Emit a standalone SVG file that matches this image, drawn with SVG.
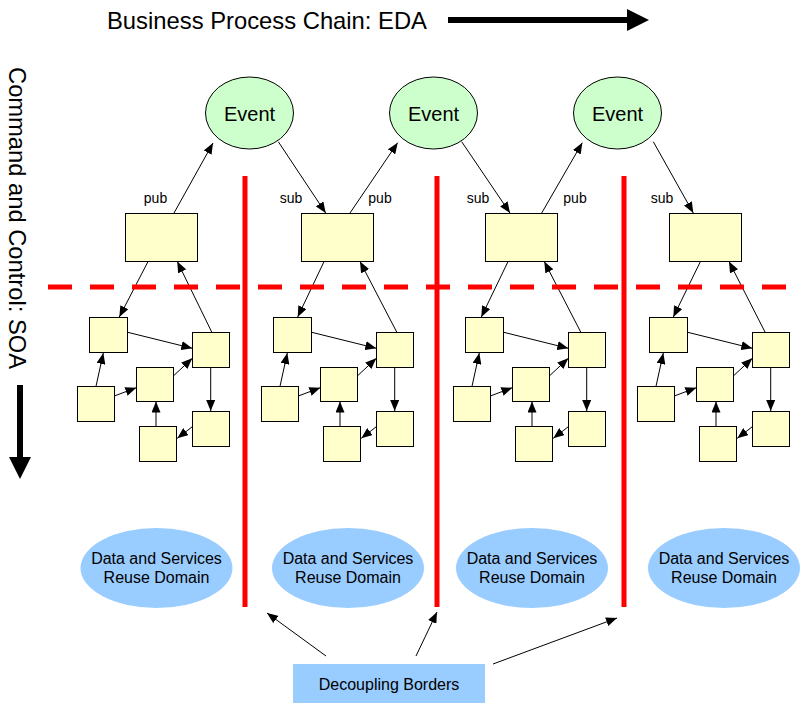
<svg xmlns="http://www.w3.org/2000/svg" width="806" height="707" viewBox="0 0 806 707">
<style>
text{font-family:"Liberation Sans",Arial,sans-serif;fill:#000}
.ev{fill:#CCFFCC;stroke:#000;stroke-width:1}
.bx{fill:#FFFFCC;stroke:#000;stroke-width:1}
.dom{fill:#99CCFF}
.c{stroke:#000;stroke-width:1;fill:none;marker-end:url(#ah)}
.red{stroke:#FF0000;stroke-width:5;fill:none}
.et{font-size:20px;text-anchor:middle}
.lb{font-size:14px;text-anchor:middle}
.dt{font-size:16px;text-anchor:middle}
</style>
<defs>
<marker id="ah" markerUnits="userSpaceOnUse" markerWidth="11" markerHeight="9" refX="11" refY="4.5" orient="auto" viewBox="0 0 11 9"><path d="M0,0L11,4.5L0,9z" fill="#000"/></marker>
</defs>
<rect width="806" height="707" fill="#fff"/>

<g id="title">
<text x="107" y="29" font-size="24" textLength="320" lengthAdjust="spacingAndGlyphs">Business Process Chain: EDA</text>
<path d="M448,17H627V9L649,20L627,31V23H448z" fill="#000"/>
</g>
<g id="side-title">
<text transform="translate(9,67) rotate(90)" font-size="24" textLength="302" lengthAdjust="spacingAndGlyphs">Command and Control: SOA</text>
<path d="M17,385H23V457H31L20,479L9,457H17z" fill="#000"/>
</g>

<g id="events">
<g id="event1"><ellipse class="ev" cx="249.5" cy="113" rx="44" ry="36"/><text class="et" x="249.5" y="121">Event</text></g>
<g id="event2"><ellipse class="ev" cx="433.5" cy="113" rx="44" ry="36"/><text class="et" x="433.5" y="121">Event</text></g>
<g id="event3"><ellipse class="ev" cx="617.5" cy="113" rx="44" ry="36"/><text class="et" x="617.5" y="121">Event</text></g>
</g>

<g id="process-boxes">
<g id="proc1"><rect class="bx" x="125.5" y="213.5" width="72" height="48"/></g>
<g id="proc2"><rect class="bx" x="301.5" y="213.5" width="72" height="48"/></g>
<g id="proc3"><rect class="bx" x="485.5" y="213.5" width="72" height="48"/></g>
<g id="proc4"><rect class="bx" x="669.5" y="213.5" width="72" height="48"/></g>
</g>

<g id="labels">
<text class="lb" x="155.5" y="203">pub</text>
<text class="lb" x="291" y="203">sub</text>
<text class="lb" x="380" y="203">pub</text>
<text class="lb" x="478" y="203">sub</text>
<text class="lb" x="575" y="203">pub</text>
<text class="lb" x="662" y="203">sub</text>
</g>

<g id="clusters">
<g id="cluster1">
<g id="c1a"><rect class="bx" x="89.5" y="317.5" width="38" height="35"/></g>
<g id="c1b"><rect class="bx" x="192.5" y="332.5" width="37" height="35"/></g>
<g id="c1c"><rect class="bx" x="136.5" y="367.5" width="37" height="34"/></g>
<g id="c1d"><rect class="bx" x="77.5" y="386.5" width="37" height="35"/></g>
<g id="c1e"><rect class="bx" x="192.5" y="411.5" width="37" height="35"/></g>
<g id="c1f"><rect class="bx" x="139.5" y="426.5" width="37" height="35"/></g>
</g>
<g id="cluster2" transform="translate(184,0)">
<g id="c2a"><rect class="bx" x="89.5" y="317.5" width="38" height="35"/></g>
<g id="c2b"><rect class="bx" x="192.5" y="332.5" width="37" height="35"/></g>
<g id="c2c"><rect class="bx" x="136.5" y="367.5" width="37" height="34"/></g>
<g id="c2d"><rect class="bx" x="77.5" y="386.5" width="37" height="35"/></g>
<g id="c2e"><rect class="bx" x="192.5" y="411.5" width="37" height="35"/></g>
<g id="c2f"><rect class="bx" x="139.5" y="426.5" width="37" height="35"/></g>
</g>
<g id="cluster3" transform="translate(376,0)">
<g id="c3a"><rect class="bx" x="89.5" y="317.5" width="38" height="35"/></g>
<g id="c3b"><rect class="bx" x="192.5" y="332.5" width="37" height="35"/></g>
<g id="c3c"><rect class="bx" x="136.5" y="367.5" width="37" height="34"/></g>
<g id="c3d"><rect class="bx" x="77.5" y="386.5" width="37" height="35"/></g>
<g id="c3e"><rect class="bx" x="192.5" y="411.5" width="37" height="35"/></g>
<g id="c3f"><rect class="bx" x="139.5" y="426.5" width="37" height="35"/></g>
</g>
<g id="cluster4" transform="translate(560,0)">
<g id="c4a"><rect class="bx" x="89.5" y="317.5" width="38" height="35"/></g>
<g id="c4b"><rect class="bx" x="192.5" y="332.5" width="37" height="35"/></g>
<g id="c4c"><rect class="bx" x="136.5" y="367.5" width="37" height="34"/></g>
<g id="c4d"><rect class="bx" x="77.5" y="386.5" width="37" height="35"/></g>
<g id="c4e"><rect class="bx" x="192.5" y="411.5" width="37" height="35"/></g>
<g id="c4f"><rect class="bx" x="139.5" y="426.5" width="37" height="35"/></g>
</g>
</g>

<g id="domains">
<g id="dom1"><ellipse class="dom" cx="156.5" cy="568" rx="76" ry="40"/><text class="dt" x="156.5" y="564">Data and Services</text><text class="dt" x="156.5" y="583">Reuse Domain</text></g>
<g id="dom2"><ellipse class="dom" cx="348" cy="568" rx="76" ry="40"/><text class="dt" x="348" y="564">Data and Services</text><text class="dt" x="348" y="583">Reuse Domain</text></g>
<g id="dom3"><ellipse class="dom" cx="532" cy="568" rx="76" ry="40"/><text class="dt" x="532" y="564">Data and Services</text><text class="dt" x="532" y="583">Reuse Domain</text></g>
<g id="dom4"><ellipse class="dom" cx="724" cy="568" rx="76" ry="40"/><text class="dt" x="724" y="564">Data and Services</text><text class="dt" x="724" y="583">Reuse Domain</text></g>
</g>

<g id="decoupling">
<rect class="dom" x="293" y="664" width="192" height="39"/>
<text class="dt" x="389" y="690">Decoupling Borders</text>
</g>

<g id="connectors">
<line class="c" x1="174" y1="213" x2="213" y2="143"/>
<line class="c" x1="278.3" y1="141.7" x2="325.7" y2="213"/>
<line class="c" x1="350" y1="213" x2="397.7" y2="142.7"/>
<line class="c" x1="461.7" y1="141.7" x2="510" y2="213"/>
<line class="c" x1="541.7" y1="213" x2="582.3" y2="142.7"/>
<line class="c" x1="653.3" y1="141.7" x2="693.3" y2="213"/>

<line class="c" x1="148.3" y1="261" x2="119.3" y2="317"/>
<line class="c" x1="211.7" y1="332" x2="177.3" y2="261.5"/>
<line class="c" x1="324.3" y1="261" x2="297.7" y2="317"/>
<line class="c" x1="396.7" y1="332" x2="360" y2="261.5"/>
<line class="c" x1="508.3" y1="261" x2="481.3" y2="317"/>
<line class="c" x1="580.7" y1="332" x2="544.3" y2="261.5"/>
<line class="c" x1="700.7" y1="261" x2="673.3" y2="317"/>
<line class="c" x1="765" y1="332" x2="729" y2="261.5"/>

<g id="cl1-links">
<line class="c" x1="127.7" y1="332.3" x2="192.3" y2="348.3"/>
<line class="c" x1="96" y1="386.3" x2="103.3" y2="353"/>
<line class="c" x1="114.3" y1="396" x2="136.3" y2="387.7"/>
<line class="c" x1="173.3" y1="376" x2="192.3" y2="358.3"/>
<line class="c" x1="210.7" y1="367" x2="210.7" y2="411"/>
<line class="c" x1="156" y1="426" x2="156" y2="401.5"/>
<line class="c" x1="192.3" y1="426.7" x2="177.3" y2="438.3"/>
</g>
<g id="cl2-links" transform="translate(184,0)">
<line class="c" x1="127.7" y1="332.3" x2="192.3" y2="348.3"/>
<line class="c" x1="96" y1="386.3" x2="103.3" y2="353"/>
<line class="c" x1="114.3" y1="396" x2="136.3" y2="387.7"/>
<line class="c" x1="173.3" y1="376" x2="192.3" y2="358.3"/>
<line class="c" x1="210.7" y1="367" x2="210.7" y2="411"/>
<line class="c" x1="156" y1="426" x2="156" y2="401.5"/>
<line class="c" x1="192.3" y1="426.7" x2="177.3" y2="438.3"/>
</g>
<g id="cl3-links" transform="translate(376,0)">
<line class="c" x1="127.7" y1="332.3" x2="192.3" y2="348.3"/>
<line class="c" x1="96" y1="386.3" x2="103.3" y2="353"/>
<line class="c" x1="114.3" y1="396" x2="136.3" y2="387.7"/>
<line class="c" x1="173.3" y1="376" x2="192.3" y2="358.3"/>
<line class="c" x1="210.7" y1="367" x2="210.7" y2="411"/>
<line class="c" x1="156" y1="426" x2="156" y2="401.5"/>
<line class="c" x1="192.3" y1="426.7" x2="177.3" y2="438.3"/>
</g>
<g id="cl4-links" transform="translate(560,0)">
<line class="c" x1="127.7" y1="332.3" x2="192.3" y2="348.3"/>
<line class="c" x1="96" y1="386.3" x2="103.3" y2="353"/>
<line class="c" x1="114.3" y1="396" x2="136.3" y2="387.7"/>
<line class="c" x1="173.3" y1="376" x2="192.3" y2="358.3"/>
<line class="c" x1="210.7" y1="367" x2="210.7" y2="411"/>
<line class="c" x1="156" y1="426" x2="156" y2="401.5"/>
<line class="c" x1="192.3" y1="426.7" x2="177.3" y2="438.3"/>
</g>

<line class="c" x1="326" y1="656" x2="267" y2="613"/>
<line class="c" x1="416" y1="656" x2="437" y2="612"/>
<line class="c" x1="493" y1="664" x2="617" y2="618"/>
</g>

<g id="borders">
<line class="red" x1="48" y1="287" x2="786" y2="287" stroke-dasharray="24 18"/>
<line class="red" x1="245" y1="176" x2="245" y2="607"/>
<line class="red" x1="437" y1="176" x2="437" y2="607"/>
<line class="red" x1="624" y1="176" x2="624" y2="607"/>
</g>
</svg>
